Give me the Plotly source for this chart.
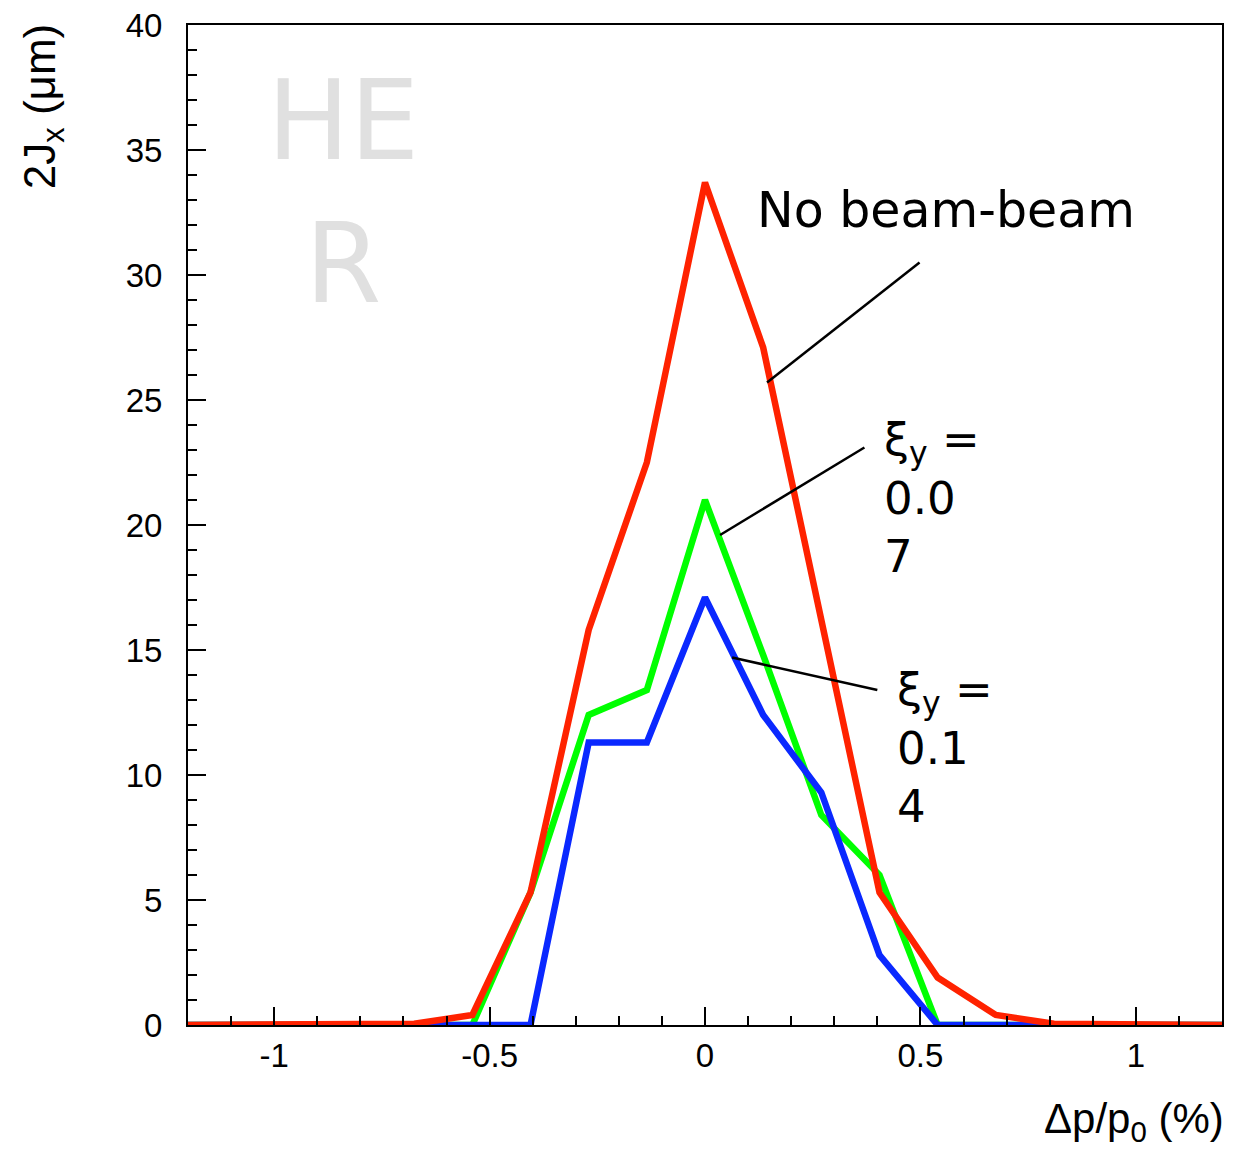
import plotly.graph_objects as go

# ---- data ----
dp = [-1.215, -0.675, -0.54, -0.405, -0.27, -0.135, 0.0, 0.135, 0.27, 0.405, 0.54, 0.675, 0.81, 1.215]
no_bb = [0.0, 0.05, 0.4, 5.3, 15.8, 22.5, 33.7, 27.1, 16.2, 5.3, 1.9, 0.4, 0.05, 0.0]
xi_007 = [0.0, 0.0, 0.0, 5.3, 12.4, 13.4, 21.0, 14.8, 8.4, 6.0, 0.0, 0.0, 0.0, 0.0]
xi_014 = [0.0, 0.0, 0.0, 0.0, 11.3, 11.3, 17.1, 12.4, 9.3, 2.8, 0.0, 0.0, 0.0, 0.0]

x_ticks = [-1, -0.5, 0, 0.5, 1]
x_ticktext = ["-1", "-0.5", "0", "0.5", "1"]

RED = "#ff2200"
GREEN = "#00ff00"
BLUE = "#0a28ff"

fig = go.Figure()
fig.add_trace(go.Scatter(x=dp, y=xi_007, mode="lines", line=dict(color=GREEN, width=6.5), showlegend=False))
fig.add_trace(go.Scatter(x=dp, y=xi_014, mode="lines", line=dict(color=BLUE, width=6.5), showlegend=False))
fig.add_trace(go.Scatter(x=dp, y=no_bb, mode="lines", line=dict(color=RED, width=6.5), showlegend=False))

# pointer lines
pointers = [
    ((0.498, 30.5), (0.144, 25.7)),
    ((0.370, 23.1), (0.035, 19.6)),
    ((0.400, 13.4), (0.063, 14.7)),
]
for (x0, y0), (x1, y1) in pointers:
    fig.add_shape(type="line", xref="x", yref="y", x0=x0, y0=y0, x1=x1, y1=y1,
                  line=dict(color="black", width=2.5))

fig.add_annotation(x=0.117, y=32.6, xref="x", yref="y", text="No beam-beam",
                   showarrow=False, xanchor="left", yanchor="middle",
                   font=dict(family="DejaVu Sans", size=49, color="black"))
fig.add_annotation(x=0.41, y=21.1, xref="x", yref="y", text="ξ<sub>y</sub> =<br>0.0<br>7",
                   showarrow=False, xanchor="left", yanchor="middle", align="left",
                   font=dict(family="DejaVu Sans", size=45, color="black"))
fig.add_annotation(x=0.44, y=11.1, xref="x", yref="y", text="ξ<sub>y</sub> =<br>0.1<br>4",
                   showarrow=False, xanchor="left", yanchor="middle", align="left",
                   font=dict(family="DejaVu Sans", size=45, color="black"))

# watermark
fig.add_annotation(x=-0.84, y=33.3, xref="x", yref="y", text="HE<br>R",
                   showarrow=False, xanchor="center", yanchor="middle", align="center",
                   font=dict(family="DejaVu Sans", size=110, color="#e0e0e0"))

# axis titles
fig.add_annotation(x=-0.14, y=0.918, xref="paper", yref="paper",
                   text="2J<sub>x</sub> (μm)", textangle=-90, showarrow=False,
                   xanchor="center", yanchor="middle",
                   font=dict(family="Liberation Sans", size=44, color="black"))
fig.add_annotation(x=1.004, y=-0.096, xref="paper", yref="paper",
                   text="Δp/p<sub>0</sub> (%)", showarrow=False,
                   xanchor="right", yanchor="middle",
                   font=dict(family="Liberation Sans", size=42, color="black"))
fig.add_annotation(x=0.285, y=1.02, xref="paper", yref="paper", text=",",
                   showarrow=False, xanchor="center", yanchor="bottom",
                   font=dict(family="Liberation Sans", size=32, color="black"))

fig.update_xaxes(range=[-1.2, 1.2], tickmode="array", tickvals=x_ticks, ticktext=x_ticktext,
                 ticks="inside", ticklen=18, tickwidth=2, tickcolor="black",
                 minor=dict(ticks="inside", ticklen=9, tickwidth=1.5, tickcolor="black",
                            tickmode="linear", tick0=0, dtick=0.1),
                 showline=True, mirror=True, linewidth=2, linecolor="black",
                 showgrid=False, zeroline=False, automargin=False,
                 tickfont=dict(family="Liberation Sans", size=33, color="black"))
fig.update_yaxes(range=[0, 40], tickmode="linear", tick0=0, dtick=5,
                 ticks="inside", ticklen=18, tickwidth=2, tickcolor="black",
                 minor=dict(ticks="inside", ticklen=9, tickwidth=1.5, tickcolor="black",
                            tickmode="linear", tick0=0, dtick=1),
                 showline=True, mirror=True, linewidth=2, linecolor="black",
                 showgrid=False, zeroline=False, automargin=False, ticklabelstandoff=17,
                 tickfont=dict(family="Liberation Sans", size=33, color="black"))

fig.update_layout(width=1245, height=1150, plot_bgcolor="white", paper_bgcolor="white",
                  margin=dict(l=188, r=23, t=25, b=125), showlegend=False)

fig.write_html("out.html")
